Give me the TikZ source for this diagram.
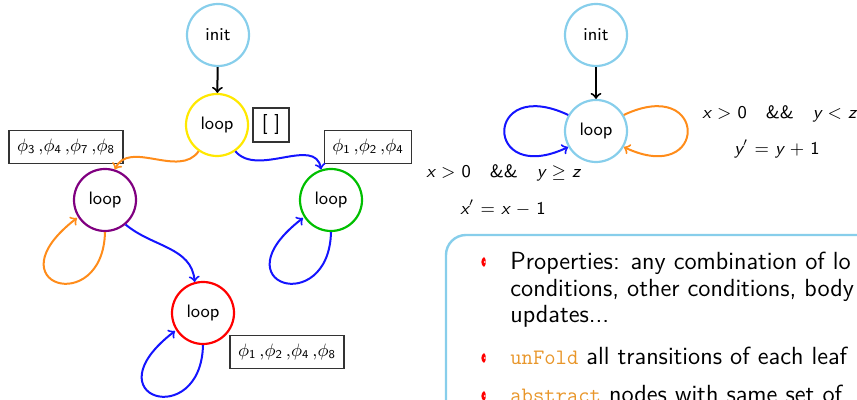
\documentclass[tikz,border=0pt]{standalone}
\usepackage{amsmath}
\usetikzlibrary{arrows,calc}
\definecolor{skyb}{HTML}{87CEEB}
\definecolor{ylw}{HTML}{FFE800}
\definecolor{prp}{HTML}{800080}
\definecolor{grn}{HTML}{00BF00}
\definecolor{rd}{HTML}{FF0000}
\definecolor{blu}{HTML}{1414FF}
\definecolor{org}{HTML}{FF8C1A}
\definecolor{kwd}{HTML}{E8962A}
\newcommand\vv[1]{{\sffamily\slshape #1}}
\newcommand\dg[1]{{\sffamily #1}}
\newcommand\ph[1]{$\phi_{\text{\sffamily #1}}$}
\newcommand\gap{\hspace{9.5pt}}
\tikzset{
  state/.style={circle, draw=#1, line width=1.1pt, minimum size=31pt, inner sep=0pt, font=\sffamily\small},
  tagbox/.style={draw=black!80, line width=0.6pt, fill=white, inner xsep=4pt, minimum height=16.5pt, font=\small},
  trans/.style={draw=#1, line width=1pt, ->, >=to},
  guard/.style={font=\small\sffamily, inner sep=0pt},
  itemtxt/.style={anchor=base west, inner sep=0pt, font=\sffamily\fontsize{12.4pt}{14pt}\selectfont},
}
% a small red leaf used as item bullet
\newcommand\leafbullet[1]{%
  \fill[rd] ($(#1)+(0,5)$) .. controls +(-3.5,-2) and +(-3.5,2) .. ($(#1)+(0,-5)$)
    .. controls +(2.5,2) and +(2.5,-2) .. cycle;
  \fill[white] ($(#1)+(0.8,0)$) circle (1);
}
% self loop leaving the bottom of a state and coming back on its lower left
\newcommand\selfloop[2]{%
  \draw[trans=#1] (#2.-90) .. controls +(-2,-86) and +(-87,-67) .. ($(#2)+(-28,-18)$);
}
\newcommand\mono[1]{{\ttfamily\fontsize{11pt}{14pt}\selectfont #1}}
\begin{document}
\begin{tikzpicture}[x=0.5pt, y=0.5pt]
\path[use as bounding box] (0,0) rectangle (857,400);
\clip (0,0) rectangle (857,400);

% ---- left: unfolded tree of the loop ----
\node[state=skyb] (i1) at (218,365) {init};
\node[state=ylw]  (ye) at (217,275) {loop};
\node[tagbox, minimum width=18pt, minimum height=17pt, font=\sffamily] (tye) at (271,275) {[\,\,]};
\node[state=prp]  (pu) at (105,200) {loop};
\node[tagbox]     (tpu) at (66,253) {\ph{3}\,,\ph{4}\,,\ph{7}\,,\ph{8}};
\node[state=grn]  (gr) at (331,200) {loop};
\node[tagbox]     (tgr) at (368,253) {\ph{1}\,,\ph{2}\,,\ph{4}};
\node[state=rd]   (re) at (203,87) {loop};
\node[tagbox]     (tre) at (287,48) {\ph{1}\,,\ph{2}\,,\ph{4}\,,\ph{8}};

\draw[trans=black] (i1) -- (ye);
\draw[trans=org] (ye.235) to[out=-125,in=65] (pu.72);
\draw[trans=blu] (ye.-55) to[out=-50,in=100] (gr.108);
\draw[trans=blu] (pu.-50) to[out=-40,in=95] (re.105);
\selfloop{org}{pu}
\selfloop{blu}{gr}
\selfloop{blu}{re}

% ---- right: the original loop ----
\node[state=skyb] (i2) at (596,365) {init};
\node[state=skyb] (rl) at (596,269) {loop};
\draw[trans=black] (i2) -- (rl);
\draw[trans=blu] (rl.150) .. controls +(-85,40) and +(-85,-40) .. (rl.210);
\draw[trans=org] (rl.30) .. controls +(85,40) and +(85,-40) .. (rl.-30);

\node[guard, anchor=west] (g1) at (702,286)
  {\vv{x} $>$ \dg{0}\gap\&\&\gap\vv{y} $<$ \vv{z}};
\node[guard] (u1) at (777,251) {\vv{y}$'$ $=$ \vv{y} $+$ \dg{1}};
\node[guard, anchor=west] (g2) at (426,227)
  {\vv{x} $>$ \dg{0}\gap\&\&\gap\vv{y} $\geq$ \vv{z}};
\node[guard] (u2) at (503,192) {\vv{x}$'$ $=$ \vv{x} $-$ \dg{1}};

% ---- text block ----
\draw[skyb, line width=1.2pt, rounded corners=10pt] (446,-30) -- (446,165) -- (900,165);
\coordinate (b1) at (484,138);
\coordinate (b2) at (484,42);
\coordinate (b3) at (484,4);
\leafbullet{b1}
\leafbullet{b2}
\leafbullet{b3}
\node[itemtxt] (l1) at (510,130) {Properties: any combination of lo};
\node[itemtxt] (l2) at (510,103) {conditions, other conditions, body};
\node[itemtxt] (l3) at (510,77) {updates...};
\node[itemtxt] (l4) at (510,35) {\textcolor{kwd}{\mono{unFold}} all transitions of each leaf};
\node[itemtxt] (l5) at (510,-3) {\textcolor{kwd}{\mono{abstract}} nodes with same set of};
\end{tikzpicture}
\end{document}
